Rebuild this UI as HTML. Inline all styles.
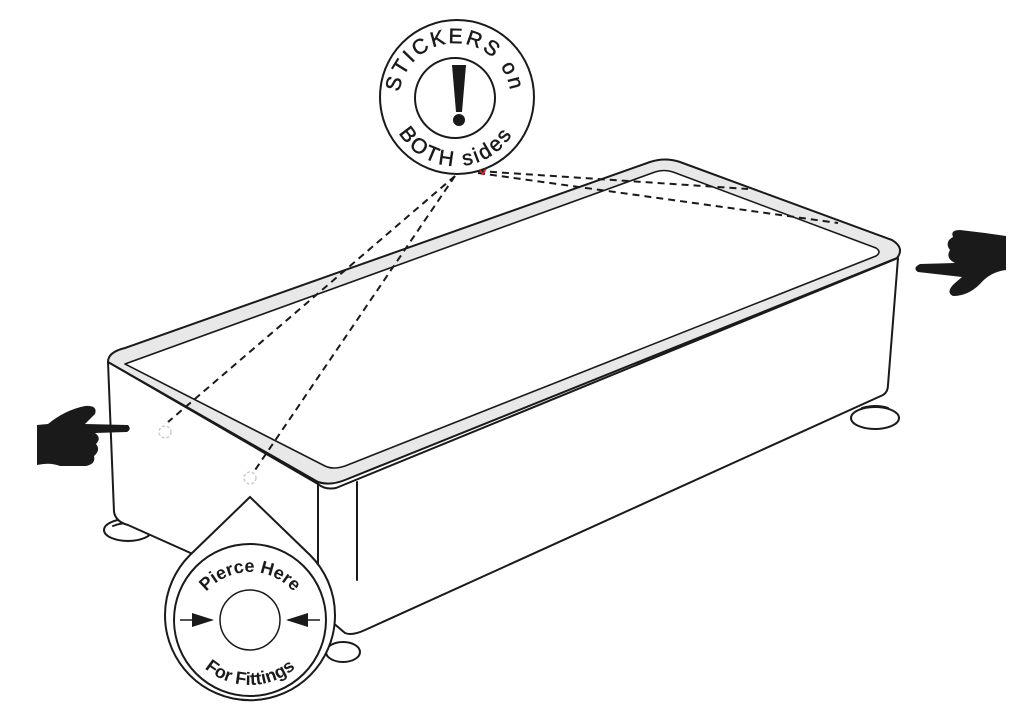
<!DOCTYPE html>
<html><head><meta charset="utf-8"><style>html,body{margin:0;padding:0;background:#fff}svg{display:block}</style></head>
<body>
<svg width="1024" height="722" viewBox="0 0 1024 722" xmlns="http://www.w3.org/2000/svg" font-family="Liberation Sans, sans-serif">
<defs>
<path id="topArc" d="M403,120 A56,56 0 1,1 507,120"/>
<path id="botArc" d="M390,100 A66,66 0 0,0 522,100"/>
<path id="pTop" d="M192,630 A58,58 0 0,1 308,630"/>
<path id="pBot" d="M180,615 A70,70 0 0,0 320,615"/>
</defs>
<g fill="none" stroke="#1a1a1a" stroke-width="2" stroke-linejoin="round" stroke-linecap="round">
<!-- feet -->
<ellipse cx="128" cy="530" rx="24" ry="11" fill="#fff"/>
<path d="M113,526 Q128,520 143,526"/>
<ellipse cx="343" cy="652" rx="17" ry="10" fill="#fff"/>
<ellipse cx="875" cy="418" rx="24" ry="11" fill="#fff"/>
<path d="M862,408 Q876,404 888,408"/>
<!-- body -->
<path d="M108,362 L114,512 Q116,522 128,525 L318,610 L345,633 Q352,636 365,630 L883,395 Q888,392 888,385 L898,258 L336,488 Q325,490 318,484 Z" fill="#fff"/>
<path d="M318,484 L318,610"/>
<path d="M357,482 L357,580"/>
<!-- rim -->
<path d="M108,362 Q108,352 125,348 L650,162 Q665,157 680,162 L892,240 Q905,248 897,258 L345,480 Q330,486 318,482 Z" fill="#e8e8e8"/>
<path d="M125,364 L655,172 Q664,169 673,172 L876,248 Q882,252 876,256 L345,466 Q333,470 325,466 Z" fill="#fff" stroke-width="1.6"/>
</g>
<!-- dashed -->
<g stroke="#1a1a1a" stroke-width="2" stroke-dasharray="7,5" fill="none">
<path d="M455,176 L168,422"/>
<path d="M455,176 L253,473"/>
<path d="M478,171 L748,189"/>
<path d="M478,173 L838,223"/>
</g>
<circle cx="165" cy="432" r="6" fill="none" stroke="#ccc" stroke-width="1.5" stroke-dasharray="3,2"/>
<circle cx="250" cy="478" r="6" fill="none" stroke="#ccc" stroke-width="1.5" stroke-dasharray="3,2"/>
<!-- pierce label -->
<path d="M250,497 L190,555 A85,85 0 1,0 310,555 Z" fill="#fff" stroke="#1a1a1a" stroke-width="2"/>
<circle cx="250" cy="620" r="76" fill="none" stroke="#1a1a1a" stroke-width="2"/>
<circle cx="250" cy="620" r="30" fill="#fff" stroke="#1a1a1a" stroke-width="1.5"/>
<path d="M180,620 L212,620 M288,620 L320,620" stroke="#1a1a1a" stroke-width="1.5"/>
<path d="M192,613 L214,620 L192,627 Z M308,613 L286,620 L308,627 Z" fill="#1a1a1a"/>
<text font-size="18" font-weight="bold" fill="#1a1a1a"><textPath href="#pTop" startOffset="50%" text-anchor="middle">Pierce Here</textPath></text>
<text font-size="18" font-weight="bold" fill="#1a1a1a"><textPath href="#pBot" startOffset="50%" text-anchor="middle">For Fittings</textPath></text>
<!-- stickers label -->
<circle cx="457" cy="97" r="77" fill="#fff" stroke="#1a1a1a" stroke-width="2"/>
<circle cx="455" cy="98" r="40" fill="none" stroke="#1a1a1a" stroke-width="2"/>
<path d="M452,65 L466,65 L462,112 L456,112 Z" fill="#1a1a1a"/>
<circle cx="459" cy="120" r="6" fill="#1a1a1a"/>
<text font-size="21" fill="#1a1a1a" letter-spacing="2.5" stroke="#1a1a1a" stroke-width="0.5"><textPath href="#topArc" startOffset="50%" text-anchor="middle">STICKERS on</textPath></text>
<text font-size="21" fill="#1a1a1a" letter-spacing="2.5" stroke="#1a1a1a" stroke-width="0.5"><textPath href="#botArc" startOffset="50%" text-anchor="middle">BOTH sides</textPath></text>
<!-- hands -->
<g fill="#1a1a1a">
<path d="M37,425 L48,424 Q65,410 85,406 Q98,405 95,414 L85,424 L128,425 Q132,429 127,432 L95,433 Q102,438 96,444 Q101,450 94,456 Q96,464 86,466 L60,466 Q50,462 37,465 Z"/>
<path d="M1006,236 L1006,270 Q990,272 980,284 Q968,296 953,296 Q945,292 955,283 L962,277 L918,272 Q912,268 920,264 L955,263 Q945,258 950,250 Q944,242 953,237 Q950,230 960,230 L985,233 Z"/>
</g>
<path d="M480,170 l3,4 l3,-5" stroke="#d22" stroke-width="1.5" fill="none"/>
</svg>
</body></html>
